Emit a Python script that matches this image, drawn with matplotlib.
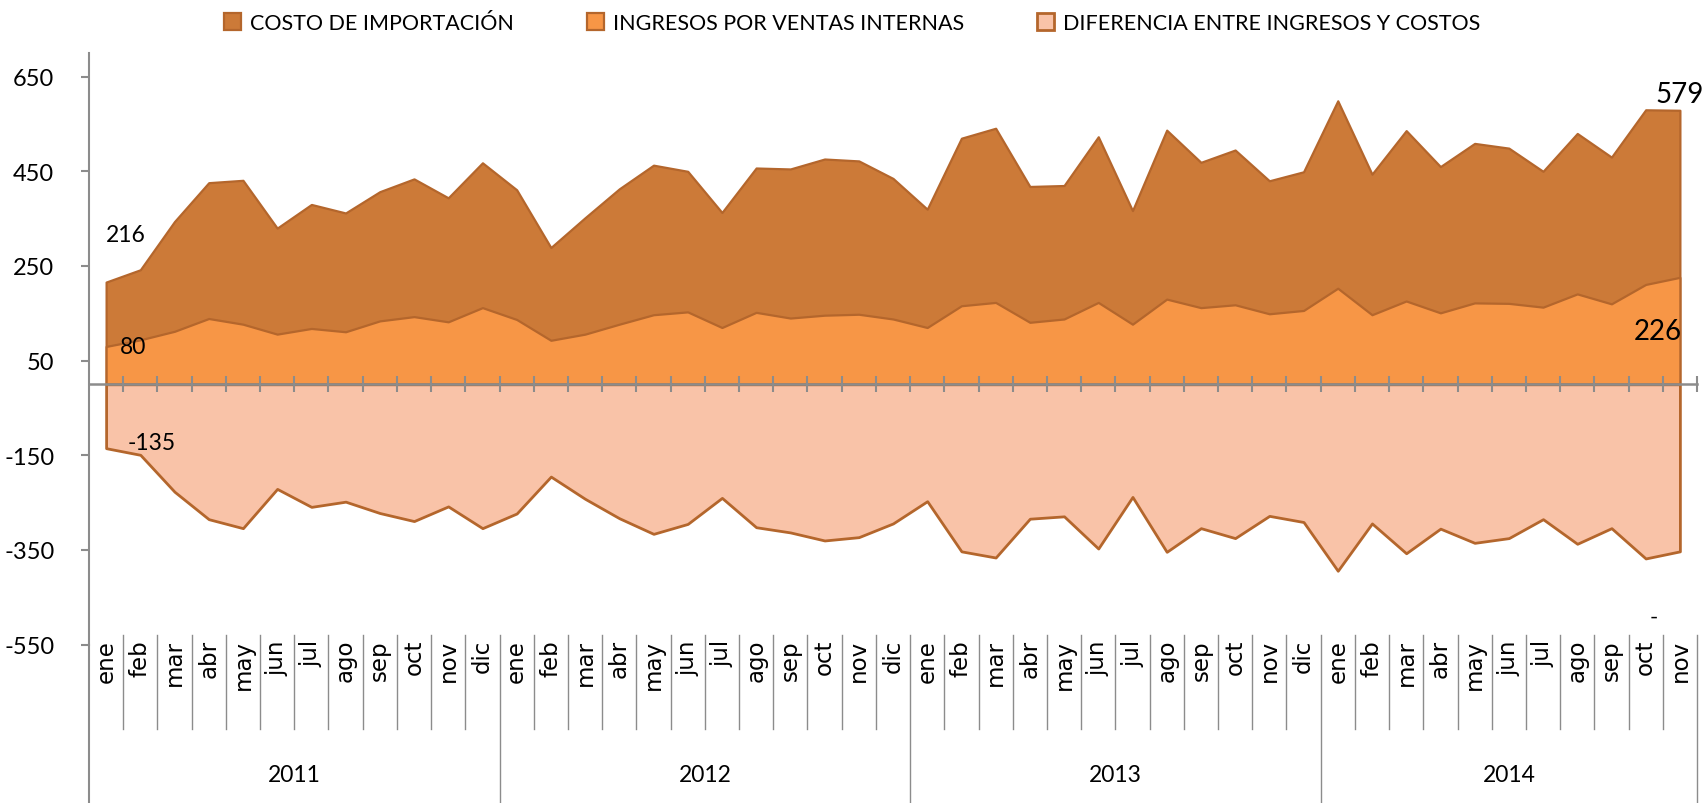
import numpy as np
import matplotlib
matplotlib.use("Agg")
import matplotlib.pyplot as plt
from matplotlib.lines import Line2D
from matplotlib.transforms import blended_transform_factory

plt.rcParams['font.family'] = ['Lato', 'DejaVu Sans']
plt.rcParams['axes.unicode_minus'] = False

# monthly series, ene 2011 .. nov 2014
meses = ["ene", "feb", "mar", "abr", "may", "jun", "jul", "ago", "sep", "oct", "nov", "dic"]
anios = ["2011", "2012", "2013", "2014"]
month_labels = meses * 3 + meses[:11]

costo = [216, 242, 344, 426, 431, 330, 380, 362, 407, 434, 394, 468,
         411, 289, 352, 413, 463, 450, 363, 457, 455, 476, 472, 435,
         370, 520, 541, 418, 420, 523, 367, 537, 469, 495, 430, 449,
         599, 444, 536, 460, 509, 499, 450, 530, 480, 580, 579]
ingresos = [80, 94, 112, 139, 127, 106, 118, 111, 134, 143, 132, 162,
            137, 93, 106, 127, 147, 153, 120, 152, 140, 146, 148, 138,
            120, 166, 173, 131, 138, 173, 127, 180, 162, 168, 149, 156,
            203, 147, 176, 151, 172, 171, 163, 191, 170, 211, 226]
diferencia = [-135, -149, -227, -285, -304, -221, -259, -248, -272, -289, -258, -304,
              -273, -195, -242, -283, -316, -295, -240, -302, -313, -330, -323, -294,
              -247, -353, -366, -284, -279, -347, -238, -354, -304, -325, -278, -291,
              -394, -294, -357, -305, -335, -325, -285, -337, -304, -368, -353]

series_names = ["COSTO DE IMPORTACIÓN", "INGRESOS POR VENTAS INTERNAS",
                "DIFERENCIA ENTRE INGRESOS Y COSTOS"]

W, H = 1704, 804
fig = plt.figure(figsize=(W / 100, H / 100), dpi=100)
ax_bottom, ax_top = 645.6, 54
ax = fig.add_axes([89 / W, 1 - ax_bottom / H, (1697 - 89) / W, (ax_bottom - ax_top) / H])

x = np.arange(len(costo))
edge = "#B4662C"
grey = "#8C8C8C"
h1 = ax.fill_between(x, 0, costo, facecolor="#CC7A38", edgecolor=edge, lw=1.6)
h2 = ax.fill_between(x, 0, ingresos, facecolor="#F79646", edgecolor=edge, lw=1.6)
h3 = ax.fill_between(x, 0, diferencia, facecolor="#F9C3A8", edgecolor=edge, lw=2)

ax.set_xlim(-0.5, len(x) - 0.5)
ax.set_ylim(-550, 700)
ax.set_axisbelow(False)

for s in ["top", "right"]:
    ax.spines[s].set_visible(False)
ax.spines["bottom"].set_position(("data", 0))
ax.spines["bottom"].set_color(grey)
ax.spines["bottom"].set_linewidth(1.8)
ax.spines["left"].set_color(grey)
ax.spines["left"].set_linewidth(1.5)

ax.set_xticks(np.arange(0.5, len(x), 1))
ax.tick_params(axis="x", direction="inout", length=11, width=1.5, color=grey, labelbottom=False)
ax.set_yticks([-550, -350, -150, 50, 250, 450, 650])
ax.tick_params(axis="y", direction="out", length=6, width=1.5, color=grey, pad=19, labelsize=17)

# data labels
ax.annotate(str(costo[0]), (0, costo[0]), xytext=(0, 48), textcoords="offset pixels",
            ha="left", va="center", fontsize=16.5)
ax.annotate(str(ingresos[0]), (0, ingresos[0]), xytext=(14, 0), textcoords="offset pixels",
            ha="left", va="center", fontsize=16.5)
ax.annotate(str(diferencia[0]), (0, diferencia[0]), xytext=(22, 6), textcoords="offset pixels",
            ha="left", va="center", fontsize=16.5)
ax.annotate(str(costo[-1]), (x[-1], costo[-1]), xytext=(0, 16), textcoords="offset pixels",
            ha="center", va="center", fontsize=20)
ax.annotate(str(ingresos[-1]), (x[-1], ingresos[-1]), xytext=(2, -54), textcoords="offset pixels",
            ha="right", va="center", fontsize=20)
ax.annotate("-", (x[-1], diferencia[-1]), xytext=(-26, -65), textcoords="offset pixels",
            ha="center", va="center", fontsize=16)

# two-level category axis below the plot
def fy(px):
    return 1 - px / H

tr = blended_transform_factory(ax.transData, fig.transFigure)
for k in range(1, len(x) + 1):
    xb = k - 0.5
    bottom = 804 if (k % 12 == 0 or k == len(x)) else 730
    ax.add_line(Line2D([xb, xb], [fy(636), fy(bottom)], transform=tr, color=grey,
                       lw=1, clip_on=False))
ax.add_line(Line2D([-0.5, -0.5], [fy(ax_bottom), fy(H)], transform=tr, color=grey,
                   lw=1.5, clip_on=False))

for i, m in enumerate(month_labels):
    ax.text(i, fy(640), m, transform=tr, rotation=90, ha="center", va="top",
            fontsize=16.5, family="DejaVu Sans")

for j, a in enumerate(anios):
    start = j * 12 - 0.5
    end = min((j + 1) * 12, len(x)) - 0.5
    ax.text((start + end) / 2, fy(776), a, transform=tr, ha="center", va="center", fontsize=16.5)

fig.legend([h1, h2, h3], series_names, loc="center", bbox_to_anchor=(0.5, fy(24)),
           ncol=3, frameon=False, fontsize=15.5, handlelength=0.8, handleheight=0.8,
           handletextpad=0.4, columnspacing=3.4)

fig.savefig("out.png", dpi=100)
